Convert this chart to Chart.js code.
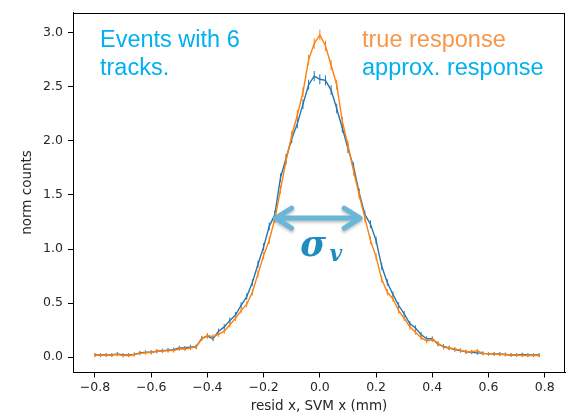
<!DOCTYPE html>
<html>
<head>
<meta charset="utf-8">
<script src="https://cdn.jsdelivr.net/npm/chart.js@4.4.1/dist/chart.umd.min.js"></script>
<style>
  html, body { margin: 0; padding: 0; background: #fff; }
  #wrap { width: 570px; height: 415px; position: relative; }
</style>
</head>
<body>
<div id="wrap"><canvas id="c"></canvas></div>
<script>
// residual bins (mm)
const resid = [
  -0.80, -0.78, -0.76, -0.74, -0.72, -0.70, -0.68, -0.66, -0.64, -0.62,
  -0.60, -0.58, -0.56, -0.54, -0.52, -0.50, -0.48, -0.46, -0.44, -0.42,
  -0.40, -0.38, -0.36, -0.34, -0.32, -0.30, -0.28, -0.26, -0.24, -0.22,
  -0.20, -0.18, -0.16, -0.14, -0.12, -0.10, -0.08, -0.06, -0.04, -0.02,
   0.00,  0.02,  0.04,  0.06,  0.08,  0.10,  0.12,  0.14,  0.16,  0.18,
   0.20,  0.22,  0.24,  0.26,  0.28,  0.30,  0.32,  0.34,  0.36,  0.38,
   0.40,  0.42,  0.44,  0.46,  0.48,  0.50,  0.52,  0.54,  0.56,  0.58,
   0.60,  0.62,  0.64,  0.66,  0.68,  0.70,  0.72,  0.74,  0.76,  0.78
];
const trueResp = [
  0.020, 0.015, 0.020, 0.020, 0.025, 0.015, 0.015, 0.025, 0.035, 0.040,
  0.045, 0.055, 0.055, 0.060, 0.060, 0.075, 0.075, 0.085, 0.095, 0.170,
  0.200, 0.190, 0.210, 0.240, 0.300, 0.360, 0.430, 0.490, 0.600, 0.770,
  0.940, 1.080, 1.280, 1.550, 1.820, 2.050, 2.240, 2.450, 2.750, 2.900,
  2.980, 2.880, 2.700, 2.520, 2.180, 1.960, 1.720, 1.500, 1.290, 1.080,
  0.930, 0.720, 0.600, 0.540, 0.430, 0.360, 0.280, 0.230, 0.180, 0.150,
  0.160, 0.130, 0.090, 0.085, 0.075, 0.065, 0.050, 0.050, 0.060, 0.035,
  0.030, 0.030, 0.025, 0.025, 0.020, 0.020, 0.015, 0.015, 0.015, 0.015
];
const approxResp = [
  0.020, 0.020, 0.020, 0.020, 0.030, 0.020, 0.020, 0.025, 0.040, 0.045,
  0.045, 0.055, 0.060, 0.065, 0.070, 0.085, 0.085, 0.095, 0.095, 0.175,
  0.195, 0.170, 0.240, 0.280, 0.340, 0.390, 0.480, 0.560, 0.690, 0.860,
  1.020, 1.210, 1.320, 1.660, 1.840, 2.020, 2.160, 2.340, 2.520, 2.600,
  2.570, 2.560, 2.470, 2.300, 2.120, 1.930, 1.760, 1.520, 1.320, 1.230,
  1.080, 0.840, 0.690, 0.580, 0.480, 0.400, 0.310, 0.270, 0.210, 0.170,
  0.170, 0.120, 0.100, 0.085, 0.070, 0.060, 0.050, 0.045, 0.040, 0.035,
  0.030, 0.030, 0.030, 0.025, 0.020, 0.020, 0.025, 0.020, 0.020, 0.020
];
const xTicks = [-0.8, -0.6, -0.4, -0.2, 0, 0.2, 0.4, 0.6, 0.8];
const xTickLabels = ["−0.8", "−0.6", "−0.4", "−0.2", "0.0", "0.2", "0.4", "0.6", "0.8"];
const yTicks = [0, 0.5, 1.0, 1.5, 2.0, 2.5, 3.0];
const yTickLabels = ["0.0", "0.5", "1.0", "1.5", "2.0", "2.5", "3.0"];

const C = { blue: "#1f77b4", orange: "#ff7f0e", note: "#00b0f0", noteOrange: "#f79646",
            sigma: "#1e8cbe", arrow: "#69b6d6", text: "#262626" };

const toPts = ys => resid.map((x, i) => ({ x, y: ys[i] }));
// error-bar ticks drawn as vertical line markers
const barSize = ctx => 1.5 + 2.2 * Math.sqrt(ctx.raw ? ctx.raw.y : 0);

const overlay = {
  id: "overlay",
  afterDraw(chart) {
    const { ctx, chartArea: a, scales: { x, y } } = chart;
    ctx.save();
    // full frame
    ctx.strokeStyle = "#000"; ctx.lineWidth = 1;
    ctx.strokeRect(Math.round(a.left) + 0.5, Math.round(a.top) + 0.5,
                   Math.round(a.right - a.left) - 1, Math.round(a.bottom - a.top) - 1);

    // annotations
    ctx.font = "23.5px 'Liberation Sans', Arial, sans-serif";
    ctx.textBaseline = "alphabetic";
    ctx.fillStyle = C.note;
    ctx.fillText("Events with 6", x.getPixelForValue(-0.782), y.getPixelForValue(2.865));
    ctx.fillText("tracks.", x.getPixelForValue(-0.782), y.getPixelForValue(2.61));
    ctx.fillStyle = C.noteOrange;
    ctx.fillText("true response", x.getPixelForValue(0.150), y.getPixelForValue(2.865));
    ctx.fillStyle = C.note;
    ctx.fillText("approx. response", x.getPixelForValue(0.150), y.getPixelForValue(2.61));

    // sigma width arrow
    const x0 = x.getPixelForValue(-0.161), x1 = x.getPixelForValue(0.147), ya = y.getPixelForValue(1.286);
    ctx.shadowColor = "rgba(0,0,0,0.25)"; ctx.shadowBlur = 3; ctx.shadowOffsetY = 2;
    ctx.strokeStyle = C.arrow; ctx.lineWidth = 5; ctx.lineCap = "round"; ctx.lineJoin = "round";
    ctx.beginPath();
    ctx.moveTo(x0 + 2, ya); ctx.lineTo(x1 - 2, ya);
    ctx.moveTo(x0 + 17, ya - 10); ctx.lineTo(x0 + 1, ya); ctx.lineTo(x0 + 17, ya + 10);
    ctx.moveTo(x1 - 17, ya - 10); ctx.lineTo(x1 - 1, ya); ctx.lineTo(x1 - 17, ya + 10);
    ctx.stroke();
    ctx.shadowColor = "transparent";

    ctx.fillStyle = C.sigma;
    ctx.font = "bold italic 35px 'DejaVu Serif', serif";
    ctx.fillText("σ", x.getPixelForValue(-0.07), y.getPixelForValue(0.94));
    ctx.font = "bold italic 22px 'DejaVu Serif', serif";
    ctx.fillText("v", x.getPixelForValue(0.034), y.getPixelForValue(0.89));
    ctx.restore();
  }
};

const tickFont = { family: "'DejaVu Sans', sans-serif", size: 12.5 };
const titleFont = { family: "'DejaVu Sans', sans-serif", size: 13.5 };

new Chart(document.getElementById("c"), {
  type: "line",
  data: {
    datasets: [
      { label: "true response", data: toPts(trueResp), borderColor: C.orange, backgroundColor: C.orange,
        borderWidth: 1.4, pointStyle: "line", rotation: 90, pointRadius: barSize, pointBorderWidth: 1,
        pointBorderColor: C.orange, tension: 0 },
      { label: "approx. response", data: toPts(approxResp), borderColor: C.blue, backgroundColor: C.blue,
        borderWidth: 1.4, pointStyle: "line", rotation: 90, pointRadius: barSize, pointBorderWidth: 1,
        pointBorderColor: C.blue, tension: 0 }
    ]
  },
  options: {
    responsive: true, maintainAspectRatio: false, animation: false,
    layout: { padding: { top: 5, right: 3.5, left: 0, bottom: 0 } },
    plugins: { legend: { display: false }, tooltip: { enabled: false } },
    scales: {
      x: {
        type: "linear", min: -0.878, max: 0.872,
        afterBuildTicks: s => { s.ticks = xTicks.map(v => ({ value: v })); },
        afterFit: s => { s.height = 42.5; },
        grid: { drawOnChartArea: false, drawTicks: true, tickLength: 5, color: "#000" },
        border: { display: true, color: "#000" },
        ticks: { font: tickFont, color: C.text, padding: 3, maxRotation: 0,
                 callback: v => xTickLabels[xTicks.indexOf(v)] },
        title: { display: true, text: "resid x, SVM x (mm)", font: titleFont, color: C.text,
                 padding: { top: 0, bottom: 0 } }
      },
      y: {
        min: -0.142, max: 3.188,
        afterBuildTicks: s => { s.ticks = yTicks.map(v => ({ value: v })); },
        afterFit: s => { s.width = 73; },
        grid: { drawOnChartArea: false, drawTicks: true, tickLength: 5, color: "#000" },
        border: { display: true, color: "#000" },
        ticks: { font: tickFont, color: C.text, padding: 5,
                 callback: v => yTickLabels[yTicks.indexOf(v)] },
        title: { display: true, text: "norm counts", font: titleFont, color: C.text,
                 padding: { top: 19, bottom: 19 } }
      }
    }
  },
  plugins: [overlay]
});
</script>
</body>
</html>
